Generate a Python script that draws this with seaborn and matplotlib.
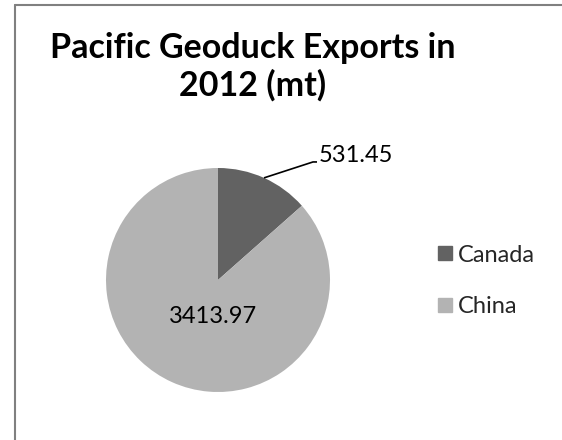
import numpy as np
import matplotlib
matplotlib.use("Agg")
import matplotlib.pyplot as plt
from matplotlib.lines import Line2D
import seaborn as sns

countries = ["Canada", "China"]
exports_mt = [531.45, 3413.97]
value_labels = ["531.45", "3413.97"]
colors = ["#626262", "#b3b3b3"]
title = "Pacific Geoduck Exports in\n2012 (mt)"

sns.set_theme(style="white")
plt.rcParams["font.family"] = ["Lato", "DejaVu Sans"]

W, H = 562, 440
fig = plt.figure(figsize=(W / 100, H / 100), dpi=100)
fig.patch.set_facecolor("white")

# outer frame (left and top edges visible)
fig.add_artist(Line2D([14.5 / W, 14.5 / W], [0, 1 - 5 / H], transform=fig.transFigure,
                      color="#808080", lw=1.5))
fig.add_artist(Line2D([14.5 / W, 1], [1 - 5 / H, 1 - 5 / H], transform=fig.transFigure,
                      color="#808080", lw=1.5))

cx, cy, r = 218, 280, 112
ax = fig.add_axes([(cx - r) / W, (H - cy - r) / H, 2 * r / W, 2 * r / H])
wedges, _ = ax.pie(exports_mt, colors=colors, startangle=90, counterclock=False,
                   radius=1, wedgeprops=dict(linewidth=0))
ax.set_xlim(-1, 1)
ax.set_ylim(-1, 1)
ax.set_aspect("equal")
ax.axis("off")
ax.set_clip_on(False)

# Canada label with leader line
w0 = wedges[0]
mid = np.deg2rad((w0.theta1 + w0.theta2) / 2)
p0 = (np.cos(mid), np.sin(mid))
elbow = (0.848, 1.054)
end = (0.884, 1.054)
ax.plot([p0[0], elbow[0], end[0]], [p0[1], elbow[1], end[1]], color="black", lw=1.2,
        clip_on=False, solid_capstyle="butt")
ax.text(0.9, 1.11, value_labels[0], ha="left", va="center", fontsize=17, color="black",
        clip_on=False)

# China label inside
ax.text(-0.045, -0.33, value_labels[1], ha="center", va="center", fontsize=17, color="black")

fig.text(253 / W, 1 - 67 / H, title, ha="center", va="center", fontsize=24.5,
         fontweight="bold", color="black", linespacing=1.2)

handles = [Line2D([], [], marker="s", linestyle="none", markersize=10.5,
                  markerfacecolor=c, markeredgecolor=c) for c in colors]
fig.legend(handles, countries, loc="center left", bbox_to_anchor=(424 / W, 1 - 281 / H),
           frameon=False, fontsize=17, handletextpad=0.05, labelspacing=1.3,
           handlelength=1.0, borderaxespad=0)

fig.savefig("out.png", dpi=100, facecolor="white")
